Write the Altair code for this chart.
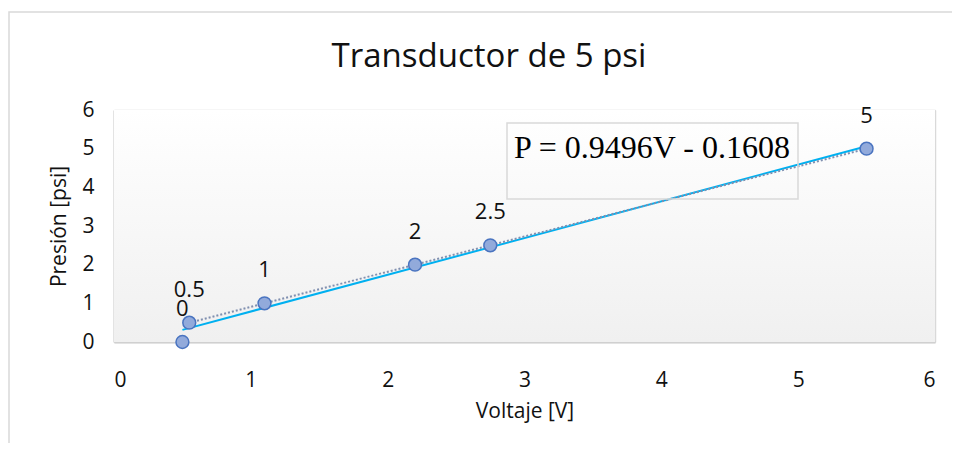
import altair as alt
import pandas as pd

voltage = [0.5, 0.55, 1.1, 2.2, 2.75, 5.5]
pressure = [0, 0.5, 1, 2, 2.5, 5]
labels = ["0", "0.5", "1", "2", "2.5", "5"]

fit_v = [0.5, 5.5]
fit_p = [0.9496 * v - 0.1608 for v in fit_v]
dot_v = [0.55, 5.5]
dot_p = [0.5, 5.0]

title_text = "Transductor de 5 psi"
equation = "P = 0.9496V - 0.1608"

pts = pd.DataFrame({"V": voltage, "P": pressure, "lab": labels})
fit = pd.DataFrame({"V": fit_v, "P": fit_p})
dot = pd.DataFrame({"V": dot_v, "P": dot_p})

W, H = 821, 232
xs = alt.Scale(domain=[0, 6], nice=False)
ys = alt.Scale(domain=[0, 6], nice=False)
FONT = "Open Sans"

axis_common = dict(values=[0, 1, 2, 3, 4, 5, 6], format="d", labelFontSize=21,
                   titleFontSize=21, titleFontWeight="normal", labelColor="#111",
                   titleColor="#111", ticks=False,
                   domainColor="#d0d0d0", domainWidth=2, gridColor="#d9d9d9",
                   gridWidth=1.5, labelFont=FONT, titleFont=FONT)
xax = alt.X("V:Q", scale=xs, title="Voltaje [V]",
            axis=alt.Axis(labelPadding=27, titlePadding=10, **axis_common))
yax = alt.Y("P:Q", scale=ys, title="Presión [psi]",
            axis=alt.Axis(labelPadding=20, titlePadding=12, **axis_common))

one = pd.DataFrame({"a": [0]})

grad = alt.LinearGradient(gradient="linear", x1=0, x2=0, y1=0, y2=1,
                          stops=[alt.GradientStop(color="#ffffff", offset=0),
                                 alt.GradientStop(color="#f0f0f0", offset=1)])
bg = alt.Chart(one).mark_rect(color=grad).encode(
    x=alt.value(0), x2=alt.value(W), y=alt.value(0), y2=alt.value(H))

border = alt.Chart(one).mark_rect(
    fill=None, stroke="#d9d9d9", strokeWidth=1.5
).encode(x=alt.value(-105), x2=alt.value(W + 40), y=alt.value(-98), y2=alt.value(H + 120))

box = alt.Chart(one).mark_rect(
    fill="white", fillOpacity=0.0, stroke="#d9d9d9", strokeWidth=1.5
).encode(x=alt.value(393), x2=alt.value(684), y=alt.value(13), y2=alt.value(89))

dotted = alt.Chart(dot).mark_line(color="#8090b0", strokeDash=[2, 2], strokeWidth=2).encode(
    x=xax, y=yax)
solid = alt.Chart(fit).mark_line(color="#00b0f0", strokeWidth=2).encode(x=xax, y=yax)
points = alt.Chart(pts).mark_circle(
    size=165, opacity=1, fill="#92aadb", stroke="#4a74c0", strokeWidth=1.5
).encode(x=xax, y=yax)
ptlabels = alt.Chart(pts).mark_text(
    fontSize=22, font=FONT, color="#111", dy=-33
).encode(x=xax, y=yax, text="lab:N")

eq = alt.Chart(pd.DataFrame({"t": [equation]})).mark_text(
    font="Liberation Serif", fontSize=32, color="#000", align="center", baseline="alphabetic"
).encode(x=alt.value(538), y=alt.value(48), text="t:N")

ttl = alt.Chart(pd.DataFrame({"t": [title_text]})).mark_text(
    font=FONT, fontSize=33, color="#111", align="center", baseline="middle"
).encode(x=alt.value(375), y=alt.value(-53), text="t:N")

chart = alt.layer(bg, border, solid, dotted, points, ptlabels, box, eq, ttl).properties(
    width=W, height=H,
    padding={"left": 106, "top": 102, "right": 17, "bottom": 101},
    autosize=alt.AutoSizeParams(type="none"),
).configure_view(
    stroke="#d9d9d9", strokeWidth=1.5,
).configure(background="white")

chart.save("out.html", embed_options={"renderer": "svg", "actions": False})
